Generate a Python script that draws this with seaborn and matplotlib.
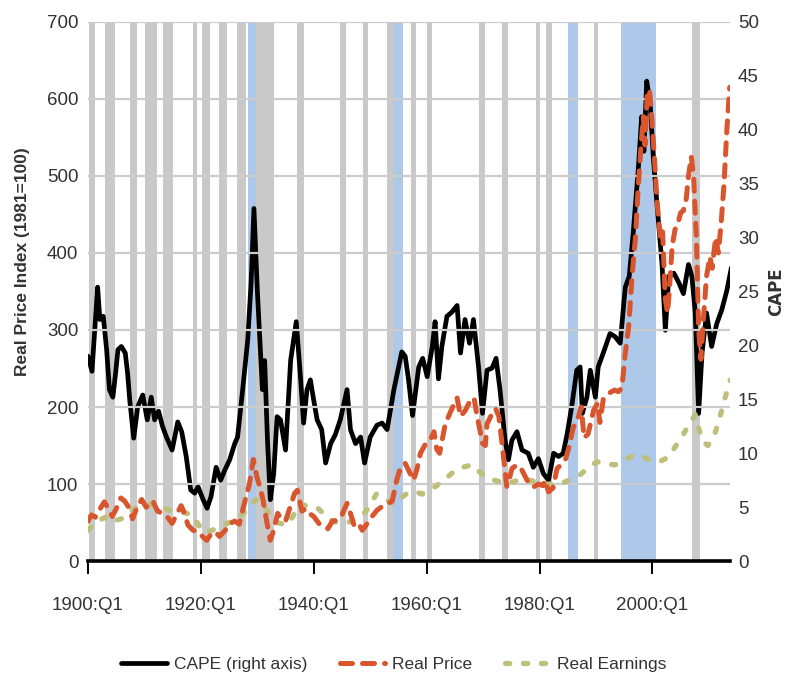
import matplotlib
matplotlib.use("Agg")
import matplotlib.pyplot as plt
import seaborn as sns
import pandas as pd

# ---------------- data ----------------
cape_years = [1900.0, 1900.4, 1900.7, 1901.2, 1901.7, 1902.1, 1902.7, 1903.3, 1903.8, 1904.4, 1904.9,
              1905.3, 1905.9, 1906.6, 1907.0, 1907.4, 1908.1, 1908.8, 1909.7, 1910.5, 1911.2, 1911.8,
              1912.5, 1913.2, 1913.9, 1914.9, 1915.9, 1916.6, 1917.4, 1918.2, 1918.9, 1919.5, 1920.4,
              1921.1, 1921.8, 1922.7, 1923.5, 1924.2, 1925.1, 1926.0, 1926.5, 1927.4, 1928.3, 1928.9,
              1929.4, 1930.0, 1930.3, 1930.9, 1931.3, 1931.8, 1932.3, 1932.9, 1933.5, 1934.1, 1935.0,
              1935.9, 1936.9, 1937.6, 1938.2, 1938.8, 1939.4, 1940.0, 1940.6, 1941.4, 1942.1, 1943.0,
              1943.8, 1944.7, 1945.9, 1946.5, 1947.4, 1948.3, 1949.0, 1950.0, 1951.2, 1952.1, 1953.0,
              1954.2, 1955.6, 1956.2, 1956.8, 1957.5, 1958.6, 1959.3, 1960.1, 1961.0, 1961.5, 1962.1,
              1962.7, 1963.6, 1964.5, 1965.4, 1966.0, 1966.8, 1967.6, 1968.3, 1969.2, 1969.9, 1970.7,
              1971.6, 1972.3, 1973.0, 1973.9, 1974.5, 1975.1, 1976.0, 1976.9, 1978.0, 1978.9, 1979.8,
              1980.7, 1981.6, 1982.5, 1983.4, 1984.2, 1984.9, 1985.7, 1986.6, 1987.2, 1987.6, 1988.4,
              1989.0, 1989.9, 1990.4, 1991.3, 1992.5, 1993.4, 1994.3, 1995.2, 1995.9, 1996.6, 1997.5,
              1998.1, 1998.5, 1999.0, 1999.6, 2000.2, 2000.8, 2001.4, 2001.7, 2002.3, 2002.9, 2003.8,
              2004.7, 2005.5, 2006.4, 2007.0, 2007.6, 2008.2, 2008.8, 2009.6, 2010.5, 2011.4, 2012.3,
              2013.2, 2014.0]
cape_values = [19.0, 18.2, 17.6, 21.5, 25.4, 22.4, 22.7, 19.6, 15.9, 15.2, 17.5,
               19.6, 19.9, 19.3, 17.5, 14.9, 11.4, 14.3, 15.4, 13.1, 15.2, 13.1,
               13.9, 12.5, 11.5, 10.3, 12.9, 12.0, 9.7, 6.6, 6.3, 6.9, 5.7,
               4.9, 6.0, 8.7, 7.5, 8.4, 9.4, 10.9, 11.5, 15.9, 20.5, 25.8,
               32.7, 25.1, 22.0, 15.9, 18.6, 11.2, 5.7, 8.1, 13.4, 13.1, 10.3,
               18.6, 22.2, 17.4, 12.8, 15.9, 16.8, 14.9, 13.1, 12.2, 9.1, 10.9,
               11.7, 13.1, 15.9, 12.2, 10.9, 11.5, 9.1, 11.5, 12.6, 12.8, 12.2,
               15.9, 19.4, 19.0, 16.8, 13.5, 18.0, 18.8, 17.1, 19.9, 22.2, 16.9,
               19.9, 22.7, 23.1, 23.7, 19.3, 22.4, 20.2, 22.4, 18.0, 13.7, 17.7,
               17.9, 18.8, 15.9, 11.2, 9.4, 11.2, 12.0, 10.3, 10.0, 8.7, 9.5,
               8.1, 7.5, 10.0, 9.7, 10.0, 11.8, 14.3, 17.7, 18.0, 13.7, 15.2,
               17.7, 15.2, 18.0, 19.3, 21.1, 20.8, 20.2, 25.4, 26.4, 30.4, 36.3,
               41.2, 38.0, 44.5, 42.5, 37.2, 33.2, 29.5, 27.6, 21.4, 26.4, 26.7,
               25.8, 24.8, 27.5, 26.4, 23.0, 13.7, 19.3, 23.0, 19.9, 22.0, 23.3,
               25.1, 27.2]

price_years = [1900.0, 1900.6, 1901.3, 1902.3, 1902.9, 1903.6, 1904.3, 1905.0, 1905.8, 1906.5, 1907.2,
               1907.9, 1908.6, 1909.5, 1910.3, 1911.0, 1911.5, 1912.3, 1913.2, 1914.0, 1914.9, 1915.8,
               1916.5, 1917.0, 1917.7, 1918.6, 1919.5, 1920.3, 1921.0, 1921.8, 1922.6, 1923.3, 1924.3,
               1925.0, 1926.0, 1926.8, 1927.7, 1928.6, 1929.3, 1929.9, 1930.5, 1931.0, 1931.7, 1932.3,
               1932.9, 1933.6, 1934.3, 1935.0, 1935.8, 1936.6, 1937.1, 1937.9, 1938.6, 1939.2, 1940.0,
               1940.9, 1941.8, 1942.5, 1943.3, 1944.1, 1945.0, 1945.9, 1946.5, 1947.2, 1948.0, 1948.6,
               1949.2, 1950.0, 1951.2, 1952.3, 1953.2, 1953.9, 1954.7, 1955.4, 1956.2, 1957.0, 1957.7,
               1958.3, 1958.9, 1959.8, 1960.7, 1961.3, 1961.8, 1962.3, 1963.3, 1964.3, 1965.4, 1966.0,
               1966.8, 1967.7, 1968.4, 1968.9, 1969.9, 1970.4, 1970.7, 1971.5, 1972.2, 1972.8, 1973.4,
               1974.2, 1974.7, 1975.1, 1976.0, 1976.9, 1977.8, 1978.9, 1979.8, 1980.6, 1981.0, 1981.6,
               1982.4, 1983.1, 1983.8, 1984.6, 1985.3, 1986.0, 1986.8, 1987.4, 1987.9, 1988.6, 1989.6,
               1990.3, 1990.7, 1991.3, 1992.3, 1993.3, 1994.0, 1994.6, 1995.2, 1995.8, 1996.4, 1997.0,
               1997.5, 1998.0, 1998.4, 1998.7, 1999.1, 1999.5, 1999.9, 2000.4, 2000.8, 2001.4, 2001.8,
               2002.3, 2002.7, 2003.0, 2003.5, 2004.0, 2004.6, 2005.0, 2005.5, 2006.0, 2006.4, 2006.9,
               2007.3, 2007.8, 2008.2, 2008.6, 2009.0, 2009.6, 2010.2, 2010.6, 2011.2, 2011.7, 2012.2,
               2012.7, 2013.2, 2013.7]
price_values = [52, 60, 57, 70, 77, 68, 58, 68, 82, 78, 70,
                55, 68, 80, 70, 74, 78, 65, 62, 58, 49, 62,
                72, 64, 47, 40, 38, 32, 27, 35, 38, 32, 40,
                48, 52, 48, 75, 100, 132, 110, 95, 80, 50, 27,
                40, 62, 55, 52, 70, 88, 92, 65, 68, 62, 58,
                49, 45, 42, 52, 53, 60, 75, 62, 45, 48, 40,
                46, 55, 66, 72, 75, 78, 105, 122, 127, 115, 105,
                120, 140, 152, 158, 168, 145, 140, 178, 195, 212, 188,
                195, 208, 212, 190, 153, 150, 178, 190, 198, 188, 150,
                97, 108, 120, 125, 118, 105, 96, 100, 98, 105, 90,
                95, 120, 125, 132, 150, 174, 185, 200, 160, 165, 196,
                205, 180, 210, 218, 222, 220, 225, 270, 304, 370, 420,
                486, 540, 577, 540, 607, 612, 575, 520, 469, 421, 430,
                340, 322, 350, 408, 430, 440, 452, 455, 470, 500, 525,
                500, 420, 300, 262, 310, 370, 395, 380, 420, 400, 440,
                490, 560, 615]

earn_years = [1900.0, 1901.0, 1902.5, 1903.5, 1904.5, 1905.9, 1907.0, 1908.6, 1910.0, 1911.6, 1913.0,
              1914.5, 1916.5, 1918.5, 1919.5, 1920.6, 1922.0, 1923.4, 1925.0, 1926.7, 1928.0, 1929.7,
              1930.8, 1932.0, 1933.5, 1935.2, 1936.3, 1937.4, 1938.7, 1940.5, 1942.0, 1943.5, 1945.0,
              1946.4, 1947.8, 1949.2, 1950.2, 1951.1, 1952.5, 1954.1, 1955.5, 1956.7, 1958.0, 1959.2,
              1960.5, 1961.8, 1963.5, 1965.1, 1966.5, 1968.0, 1969.5, 1971.0, 1972.5, 1974.2, 1975.8,
              1977.2, 1978.8, 1980.4, 1982.0, 1983.9, 1985.5, 1987.2, 1988.7, 1990.2, 1991.8, 1993.4,
              1995.2, 1996.9, 1998.5, 2000.2, 2001.5, 2002.9, 2004.0, 2005.2, 2006.4, 2007.6, 2008.3,
              2008.8, 2009.8, 2010.8, 2011.6, 2012.3, 2013.0, 2013.8]
earn_values = [40, 48, 55, 58, 52, 55, 62, 70, 72, 74, 70,
               66, 64, 60, 48, 37, 40, 45, 50, 57, 65, 80,
               76, 63, 50, 47, 58, 74, 72, 70, 60, 51, 50,
               51, 56, 64, 76, 87, 82, 74, 82, 89, 90, 87,
               92, 98, 108, 118, 122, 125, 115, 107, 104, 101, 104,
               107, 104, 100, 100, 101, 106, 112, 122, 129, 126, 125,
               132, 138, 135, 129, 130, 135, 148, 161, 176, 190, 170,
               157, 150, 159, 178, 196, 215, 235]

gray_starts = [1900.2, 1903.0, 1907.4, 1910.1, 1913.3, 1918.6, 1920.2, 1923.2, 1926.4, 1929.7, 1937.0,
               1944.6, 1948.7, 1952.9, 1957.2, 1960.0, 1969.2, 1973.3, 1979.3, 1981.1, 1989.6, 2007.1]
gray_ends = [1901.3, 1904.8, 1908.7, 1912.2, 1915.0, 1919.3, 1921.6, 1924.6, 1928.0, 1932.9, 1938.2,
             1945.8, 1949.6, 1954.0, 1958.2, 1960.9, 1970.4, 1974.5, 1980.0, 1982.3, 1990.4, 2008.5]
blue_starts = [1928.3, 1954.0, 1985.1, 1994.5]
blue_ends = [1929.7, 1955.9, 1986.9, 2000.7]

x_ticks = [1900, 1920, 1940, 1960, 1980, 2000]
x_labels = ["1900:Q1", "1920:Q1", "1940:Q1", "1960:Q1", "1980:Q1", "2000:Q1"]
left_ticks = [0, 100, 200, 300, 400, 500, 600, 700]
right_ticks = [0, 5, 10, 15, 20, 25, 30, 35, 40, 45, 50]

# ---------------- style ----------------
sns.set_theme(style="white")
FONT = ["Liberation Sans Narrow", "Liberation Sans", "DejaVu Sans"]
plt.rcParams["font.family"] = FONT
TXT = "#333333"

fig = plt.figure(figsize=(7.88, 6.81), dpi=100)
ax = fig.add_axes([0.1117, 0.176, 0.8143, 0.792])
ax2 = ax.twinx()
ax.set_zorder(ax2.get_zorder() + 1)
ax.patch.set_visible(False)

# shaded periods (behind everything)
for s, e in zip(gray_starts, gray_ends):
    ax2.axvspan(s, e, color="#C9C9C9", lw=0, zorder=0)
for s, e in zip(blue_starts, blue_ends):
    ax2.axvspan(s, e, color="#ADC8E8", lw=0, zorder=0)

cape_df = pd.DataFrame({"year": cape_years, "cape": cape_values})
price_df = pd.DataFrame({"year": price_years, "price": price_values})
earn_df = pd.DataFrame({"year": earn_years, "earn": earn_values})

sns.lineplot(data=cape_df, x="year", y="cape", ax=ax2, color="black", linewidth=3.4,
             solid_joinstyle="round", label="CAPE (right axis)", legend=False, zorder=2)
sns.lineplot(data=earn_df, x="year", y="earn", ax=ax, color="#BFBF7C", linewidth=3.8,
             linestyle=(0, (0.8, 2.6)), dash_capstyle="round",
             label="Real Earnings", legend=False, zorder=3)
sns.lineplot(data=price_df, x="year", y="price", ax=ax, color="#D9552E", linewidth=3.6,
             linestyle=(0, (2.4, 2.0)), dash_capstyle="round",
             label="Real Price", legend=False, zorder=4)

ax.set_xlim(1900, 2013.7)
ax.set_ylim(0, 700)
ax2.set_ylim(0, 50)

ax.set_yticks(left_ticks)
ax2.set_yticks(right_ticks)
ax.set_xticks(x_ticks)
ax.set_xticklabels(x_labels)

ax.yaxis.grid(True, color="#CCCCCC", linewidth=1.6, zorder=1)
ax.xaxis.grid(False)
ax2.grid(False)
ax.set_axisbelow(True)

for a in (ax, ax2):
    for side in ("left", "right", "top"):
        a.spines[side].set_visible(False)
ax2.spines["bottom"].set_visible(False)
ax.spines["bottom"].set_color("black")
ax.spines["bottom"].set_linewidth(2.6)
ax.spines["bottom"].set_zorder(10)

ax.tick_params(axis="x", direction="out", length=9, width=1.4, color="black",
               labelsize=13.5, labelcolor=TXT, pad=17, bottom=True)
ax.tick_params(axis="y", length=0, labelsize=13.5, labelcolor=TXT, pad=7)
ax2.tick_params(axis="y", length=0, labelsize=13.5, labelcolor=TXT, pad=6)

ax.set_xlabel("")
ax.set_ylabel("Real Price Index (1981=100)", fontsize=12.5, fontweight="bold", color=TXT)
ax2.set_ylabel("CAPE", fontsize=12, fontweight="bold", color=TXT,
               family=["DejaVu Sans"])
ax.yaxis.set_label_coords(-0.090, 0.555)
ax2.yaxis.set_label_coords(1.058, 0.50)

h2, l2 = ax2.get_legend_handles_labels()
h1, l1 = ax.get_legend_handles_labels()
handles = h2 + [h1[l1.index("Real Price")], h1[l1.index("Real Earnings")]]
labels = ["CAPE (right axis)", "Real Price", "Real Earnings"]
leg = fig.legend(handles, labels, loc="center", bbox_to_anchor=(0.5, 0.024), ncol=3,
                 frameon=False, fontsize=12.5, handlelength=2.6, columnspacing=1.9,
                 handletextpad=0.4)
for t in leg.get_texts():
    t.set_color(TXT)

fig.savefig("out.png", dpi=100)
